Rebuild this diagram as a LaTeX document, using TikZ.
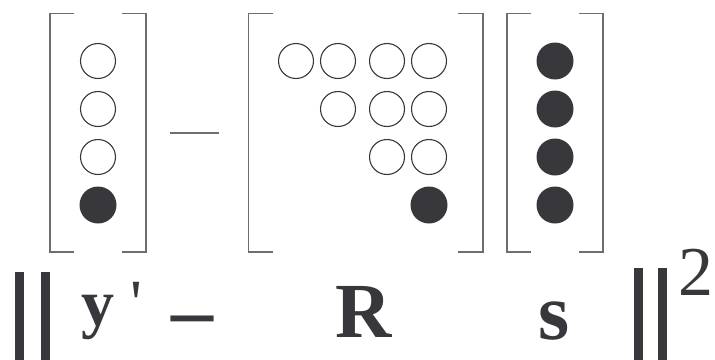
\documentclass[tikz,border=0pt]{standalone}
\usepackage{fontspec}
\setmainfont{Liberation Serif}
\newfontfamily\primefont[Ligatures=TeXOff]{Liberation Serif}
\usepackage{xcolor}
\definecolor{ink}{HTML}{38383C}
\definecolor{rule}{HTML}{6E6E6E}

\begin{document}
\begin{tikzpicture}[
			x=1pt, y=-1pt,
			opencell/.style = {circle, draw=ink, line width=1.1pt, minimum size=35pt, inner sep=0pt},
			fullcell/.style = {circle, fill=ink, minimum size=37pt, inner sep=0pt},
			brk/.style = {draw=rule, line width=1.3pt},
			sym/.style = {inner sep=0pt, outer sep=0pt, text=ink, anchor=base west},
			bars/.style = {inner sep=0pt, outer sep=0pt, text=ink, anchor=north west},
		]
			\useasboundingbox (0,0) rectangle (715,359);
			% vector y'
			\node[opencell] (y1) at (98,61) {};
			\node[opencell] (y2) at (98,109) {};
			\node[opencell] (y3) at (98,157) {};
			\node[fullcell] (y4) at (98,205) {};
			\draw[brk] (74,13.5) -| (50,252) -- (74,252);
			\draw[brk] (122,13.5) -| (146,252) -- (122,252);
			% minus between brackets
			\draw[brk, line width=1.1pt] (170,133) -- (219,133);
			% matrix R
			\node[opencell] (r11) at (296,61) {};
			\node[opencell] (r12) at (338,61) {};
			\node[opencell] (r13) at (387,61) {};
			\node[opencell] (r14) at (429,61) {};
			\node[opencell] (r22) at (338,109) {};
			\node[opencell] (r23) at (387,109) {};
			\node[opencell] (r24) at (429,109) {};
			\node[opencell] (r33) at (387,157) {};
			\node[opencell] (r34) at (429,157) {};
			\node[fullcell] (r44) at (429,205) {};
			\draw[brk] (273,13.5) -| (248.5,252) -- (273,252);
			\draw[brk] (458,13.5) -| (483,252) -- (458,252);
			% vector s
			\node[fullcell] (s1) at (555,61) {};
			\node[fullcell] (s2) at (555,109) {};
			\node[fullcell] (s3) at (555,157) {};
			\node[fullcell] (s4) at (555,205) {};
			\draw[brk] (531,13.5) -| (507,252) -- (531,252);
			\draw[brk] (579,13.5) -| (603,252) -- (579,252);
			% formula below
			\node[bars] (normL) at (15,272) {\rule{9pt}{95pt}\kern17pt\rule{9pt}{95pt}};
			\node[sym, font=\fontsize{66pt}{66pt}\selectfont\bfseries] (yp) at (81,325) {y \primefont\mdseries'};
			\node[sym, font=\fontsize{84pt}{84pt}\selectfont\bfseries] (minus) at (171,338) {–};
			\node[sym, font=\fontsize{78pt}{78pt}\selectfont\bfseries] (R) at (335,337) {R};
			\node[sym, font=\fontsize{80pt}{80pt}\selectfont\bfseries] (s) at (538,339) {s};
			\node[bars] (normR) at (634,268) {\rule{9pt}{95pt}\kern15pt\rule{9pt}{95pt}};
			\node[sym, font=\fontsize{70pt}{70pt}\selectfont] (sq) at (678,295) {2};
		\end{tikzpicture}
\end{document}
